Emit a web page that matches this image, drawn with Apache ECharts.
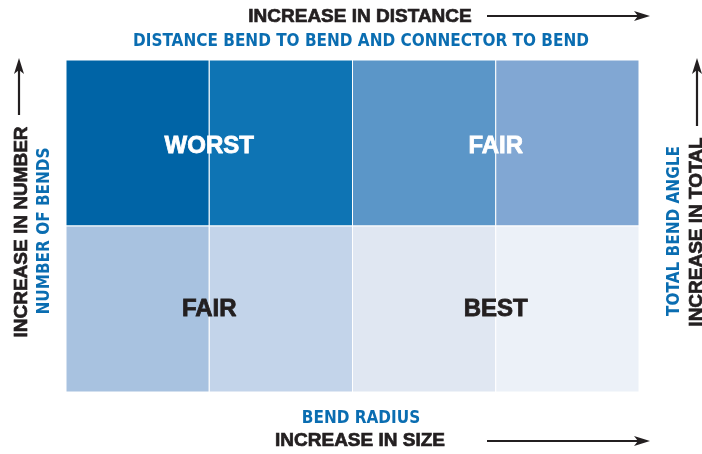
<!DOCTYPE html>
<html>
<head>
<meta charset="utf-8">
<script src="https://cdn.jsdelivr.net/npm/echarts@6/dist/echarts.min.js"></script>
<style>html,body{margin:0;padding:0;background:#fff}#c{width:702px;height:454px}</style>
</head>
<body>
<div id="c"></div>
<script>
// Grid of cells: column index, row index (0 = bottom), fill colour
var cellCols = [0, 1, 2, 3, 0, 1, 2, 3];
var cellRows = [1, 1, 1, 1, 0, 0, 0, 0];
var cellColors = ['#0064A6', '#0E74B4', '#5B96C8', '#81A7D3', '#A8C2E0', '#C3D4EA', '#E0E7F2', '#ECF1F8'];
// Rating labels placed at the centre of each quadrant
var ratingText = ['WORST', 'FAIR', 'FAIR', 'BEST'];
var ratingX = [1, 3, 1, 3];
var ratingY = [1.48, 1.48, 0.5, 0.5];
var ratingColor = ['#ffffff', '#ffffff', '#231F20', '#231F20'];
// Axis titles
var topTitle = 'INCREASE IN DISTANCE';
var topSub = 'DISTANCE BEND TO BEND AND CONNECTOR TO BEND';
var bottomSub = 'BEND RADIUS';
var bottomTitle = 'INCREASE IN SIZE';
var leftTitle = 'INCREASE IN NUMBER';
var leftSub = 'NUMBER OF BENDS';
var rightSub = 'TOTAL BEND ANGLE';
var rightTitle = 'INCREASE IN TOTAL';

var BLUE = '#0A6DB1', BLACK = '#231F20';

var chart = echarts.init(document.getElementById('c'));
var cells = cellCols.map(function (c, i) { return [c, cellRows[i], i]; });
var labels = ratingText.map(function (t, i) {
  return { value: [ratingX[i], ratingY[i]], name: t, label: { color: ratingColor[i], textBorderColor: ratingColor[i], textBorderWidth: 0.8 } };
});

function arrowH(x1, x2, y) {
  return [
    { type: 'line', shape: { x1: x1, y1: y, x2: x2 - 10, y2: y }, style: { stroke: BLACK, lineWidth: 2.2 } },
    { type: 'polygon', shape: { points: [[x2, y], [x2 - 16, y - 5], [x2 - 12, y], [x2 - 16, y + 5]] }, style: { fill: BLACK } }
  ];
}
function arrowV(x, y1, y2) {
  return [
    { type: 'line', shape: { x1: x, y1: y1, x2: x, y2: y2 + 10 }, style: { stroke: BLACK, lineWidth: 2.2 } },
    { type: 'polygon', shape: { points: [[x, y2], [x - 5, y2 + 16], [x, y2 + 12], [x + 5, y2 + 16]] }, style: { fill: BLACK } }
  ];
}
function txtBlack(s, x, y, rot) {
  return { type: 'text', x: x, y: y, rotation: rot || 0, style: {
    text: s, fill: BLACK, fontFamily: 'Liberation Sans', fontWeight: 'bold', fontSize: 19,
    stroke: BLACK, lineWidth: 0.7, align: 'center', verticalAlign: 'middle' } };
}
function txtBlue(s, x, y, rot) {
  return { type: 'text', x: x, y: y, rotation: rot || 0, style: {
    text: s, fill: BLUE, fontFamily: 'DejaVu Sans Condensed', fontWeight: 'bold', fontSize: 17,
    align: 'center', verticalAlign: 'middle' } };
}

var R = Math.PI / 2;
var g = [
  txtBlack(topTitle, 360, 17),
  txtBlue(topSub, 361, 42),
  txtBlue(bottomSub, 361, 419),
  txtBlack(bottomTitle, 360, 441),
  txtBlack(leftTitle, 22, 232, R),
  txtBlue(leftSub, 45, 231, R),
  txtBlue(rightSub, 675, 231, R),
  txtBlack(rightTitle, 697, 232, R)
];
g = g.concat(arrowH(487, 650, 16), arrowH(487, 650, 441), arrowV(19, 115, 58), arrowV(697, 126, 58));

chart.setOption({
  animation: false,
  grid: { left: 66, top: 60, right: 63, bottom: 62 },
  xAxis: { type: 'value', min: 0, max: 4, interval: 1, show: false },
  yAxis: { type: 'value', min: 0, max: 2, interval: 1, show: false },
  graphic: g,
  series: [
    {
      type: 'custom',
      data: cells,
      renderItem: function (params, api) {
        var p0 = api.coord([api.value(0), api.value(1) + 1]);
        var p1 = api.coord([api.value(0) + 1, api.value(1)]);
        return {
          type: 'rect',
          shape: { x: p0[0], y: p0[1], width: p1[0] - p0[0], height: p1[1] - p0[1] },
          style: { fill: cellColors[api.value(2)], stroke: '#ffffff', lineWidth: 1 }
        };
      },
      z: 1
    },
    {
      type: 'scatter',
      data: labels,
      symbolSize: 0,
      itemStyle: { opacity: 1 },
      z: 5,
      label: {
        show: true, position: 'inside', formatter: '{b}', opacity: 1,
        fontFamily: 'Liberation Sans', fontWeight: 'bold', fontSize: 24
      }
    }
  ]
});
</script>
</body>
</html>
